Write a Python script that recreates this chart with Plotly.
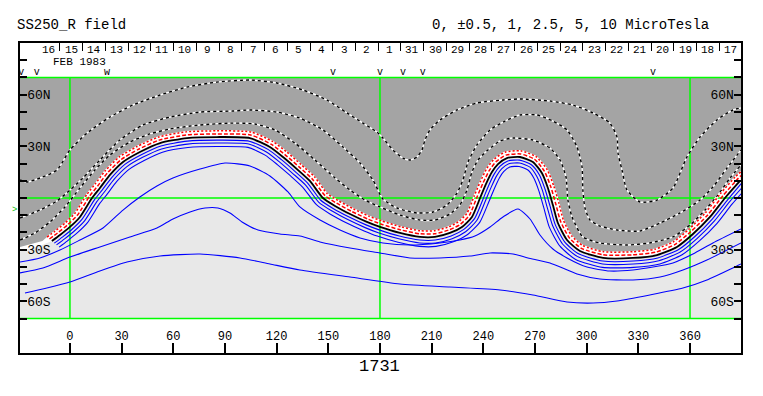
import plotly.graph_objects as go

# ---------------- data (Carrington longitude, latitude) ----------------
LON_MIN, LON_MAX = -29.0, 389.6
LAT_TOP, LAT_BOT = 70.0, -70.0

NEUTRAL = [(-10.5, -25.0), (-5.8, -21.5), (0.0, -16.8), (5.8, -11.0), (12.8, 0.0), (17.4, 5.8), (23.2, 13.4),
           (30.8, 20.9), (40.6, 26.7), (52.3, 31.9), (67.9, 34.8), (85.3, 35.4), (104.5, 34.8), (116.1, 29.6),
           (123.7, 23.8), (131.8, 16.8), (139.3, 9.9), (146.9, 0.0), (153.9, -4.6), (162.6, -9.3), (172.4, -13.9),
           (180.0, -16.8), (191.6, -20.3), (203.2, -22.6), (211.9, -22.6), (220.6, -20.3), (227.6, -16.8),
           (233.4, -11.0), (238.1, 0.0), (241.5, 8.1), (245.0, 15.1), (248.5, 19.7), (253.7, 23.2), (261.3, 23.8),
           (268.8, 20.9), (274.0, 14.5), (277.5, 5.8), (280.4, -4.1), (283.3, -14.5), (288.6, -24.4), (296.1, -30.8),
           (309.5, -34.8), (326.9, -34.8), (340.8, -33.1), (352.4, -28.4), (361.7, -20.9), (371.6, -11.0),
           (380.3, 0.0), (389.0, 9.9)]

RED_OUTER = [(-13.3, -22.7), (-8.6, -19.2), (-2.8, -14.5), (2.9, -8.8), (9.9, 2.2), (14.7, 8.2), (20.6, 15.9),
             (28.6, 23.8), (39.0, 29.9), (51.4, 35.4), (67.5, 38.4), (85.3, 39.0), (105.2, 38.3), (117.9, 32.7),
             (125.9, 26.7), (134.2, 19.4), (142.0, 12.3), (149.4, 2.5), (155.7, -1.5), (164.2, -6.1), (173.5, -10.5),
             (181.0, -13.3), (192.3, -16.8), (203.4, -19.0), (211.5, -19.0), (219.3, -17.0), (225.4, -13.9),
             (230.4, -9.0), (234.8, 1.4), (238.3, 9.6), (242.1, 17.3), (246.3, 22.6), (252.6, 26.6), (261.7, 27.4),
             (270.6, 24.0), (277.1, 16.4), (280.9, 7.0), (283.9, -3.1), (286.5, -12.9), (291.3, -22.0),
             (297.7, -27.6), (309.7, -31.2), (326.7, -31.2), (339.7, -29.7), (350.4, -25.4), (359.2, -18.3),
             (368.9, -8.6), (377.6, 2.4), (386.3, 12.3), (389.6, 15.3)]

RED_INNER = [(-11.9, -23.8), (-7.2, -20.3), (-1.4, -15.6), (4.4, -9.9), (11.4, 1.1), (16.1, 7.0), (21.9, 14.7),
             (29.7, 22.3), (39.8, 28.3), (51.8, 33.6), (67.7, 36.6), (85.3, 37.2), (104.9, 36.6), (117.0, 31.1),
             (124.8, 25.2), (133.0, 18.1), (140.6, 11.1), (148.2, 1.3), (154.8, -3.0), (163.4, -7.7), (172.9, -12.2),
             (180.5, -15.1), (192.0, -18.5), (203.3, -20.8), (211.7, -20.8), (219.9, -18.6), (226.5, -15.4),
             (231.9, -10.0), (236.4, 0.7), (239.9, 8.9), (243.6, 16.2), (247.4, 21.1), (253.2, 24.9), (261.5, 25.6),
             (269.7, 22.5), (275.5, 15.5), (279.2, 6.4), (282.1, -3.6), (284.9, -13.7), (290.0, -23.2),
             (296.9, -29.2), (309.6, -33.0), (326.8, -33.0), (340.3, -31.4), (351.4, -26.9), (360.4, -19.6),
             (370.3, -9.8), (379.0, 1.2), (387.7, 11.1), (389.6, 13.0)]

NEG_1 = [(-9.1, -26.2), (-4.4, -22.7), (1.4, -18.0), (7.2, -12.1), (14.2, -1.1), (18.7, 4.6), (24.5, 12.1),
         (31.9, 19.5), (41.4, 25.1), (52.8, 30.2), (68.1, 33.0), (85.3, 33.6), (104.1, 33.0), (115.2, 28.1),
         (122.6, 22.4), (130.6, 15.5), (138.0, 8.7), (145.6, -1.3), (153.0, -6.2), (161.8, -10.9), (171.9, -15.6),
         (179.5, -18.5), (191.2, -22.1), (203.1, -24.4), (212.1, -24.4), (221.3, -22.0), (228.7, -18.2),
         (234.9, -12.0), (239.8, -0.7), (243.1, 7.3), (246.4, 14.0), (249.6, 18.3), (254.2, 21.5), (261.1, 22.0),
         (267.9, 19.3), (272.5, 13.5), (275.8, 5.2), (278.7, -4.6), (281.7, -15.3), (287.3, -25.6), (295.3, -32.4),
         (309.4, -36.6), (327.0, -36.6), (341.3, -34.8), (353.4, -29.9), (363.0, -22.2), (372.9, -12.2),
         (381.7, -1.2), (390.0, 8.7)]

NEG_2 = [(-7.8, -27.2), (-3.1, -23.7), (2.7, -19.0), (8.6, -13.1), (15.6, -2.1), (20.0, 3.5), (25.7, 11.0),
         (32.9, 18.1), (42.2, 23.6), (53.2, 28.5), (68.3, 31.3), (85.3, 31.9), (103.8, 31.4), (114.3, 26.6),
         (121.6, 21.0), (129.4, 14.2), (136.7, 7.6), (144.5, -2.5), (152.2, -7.6), (161.0, -12.4), (171.4, -17.2),
         (179.0, -20.2), (190.9, -23.7), (203.0, -26.1), (212.3, -26.1), (221.9, -23.6), (229.7, -19.6),
         (236.3, -12.9), (241.3, -1.4), (244.7, 6.6), (247.8, 13.0), (250.6, 16.9), (254.8, 19.9), (261.0, 20.3),
         (267.1, 17.9), (271.0, 12.6), (274.2, 4.7), (277.0, -5.1), (280.2, -16.0), (286.0, -26.7), (294.5, -33.9),
         (309.3, -38.3), (327.1, -38.3), (341.9, -36.4), (354.3, -31.3), (364.2, -23.4), (374.2, -13.3),
         (382.9, -2.3), (391.6, 7.6)]

NEG_3 = [(-6.3, -28.5), (-1.6, -25.0), (4.2, -20.3), (10.2, -14.3), (17.2, -3.3), (21.5, 2.1), (27.2, 9.6),
         (34.1, 16.5), (43.1, 21.8), (53.7, 26.6), (68.5, 29.3), (85.3, 29.9), (103.4, 29.4), (113.3, 24.9),
         (120.4, 19.4), (128.1, 12.8), (135.2, 6.2), (143.1, -3.9), (151.2, -9.4), (160.1, -14.2), (170.8, -19.1),
         (178.4, -22.1), (190.5, -25.7), (202.9, -28.1), (212.5, -28.1), (222.6, -25.4), (230.9, -21.2),
         (238.0, -14.0), (243.2, -2.2), (246.5, 5.7), (249.4, 11.8), (251.8, 15.3), (255.4, 18.0), (260.8, 18.3),
         (266.1, 16.1), (269.3, 11.6), (272.3, 4.0), (275.1, -5.6), (278.3, -16.9), (284.5, -28.0), (293.6, -35.7),
         (309.2, -40.3), (327.2, -40.3), (342.5, -38.3), (355.4, -33.0), (365.6, -24.8), (375.7, -14.7),
         (384.4, -3.6), (393.1, 6.2)]

NEG_4 = [(-29.0, -37.2), (-17.4, -34.8), (-5.8, -30.2), (5.8, -24.4), (19.2, -17.4), (30.8, -7.0), (40.6, 0.6),
         (50.5, 7.0), (59.8, 11.6), (75.5, 16.8), (90.0, 20.3), (104.5, 18.6), (116.1, 12.8), (126.6, 3.5),
         (133.5, -5.2), (145.2, -12.8), (156.8, -18.6), (168.4, -23.2), (181.7, -26.1), (197.4, -27.3),
         (214.8, -26.1), (226.4, -24.4), (235.1, -22.1), (243.9, -16.8), (251.4, -11.0), (260.1, -6.4),
         (267.1, -12.2), (272.9, -21.5), (280.4, -29.6), (288.6, -34.8), (300.2, -40.1), (313.5, -42.4),
         (326.9, -41.8), (338.5, -40.1), (350.1, -37.7), (361.7, -32.5), (373.3, -26.1), (389.6, -18.0)]

NEG_5 = [(-29.0, -43.5), (-15.7, -40.6), (0.0, -34.3), (17.4, -28.4), (34.8, -22.6), (50.5, -17.4), (59.8, -12.2),
         (69.7, -8.1), (78.4, -5.8), (85.9, -5.8), (92.9, -8.7), (99.9, -13.9), (109.2, -18.6), (121.9, -20.9),
         (133.5, -22.1), (145.2, -25.5), (162.6, -29.0), (180.0, -31.9), (197.4, -34.8), (214.8, -34.8),
         (232.2, -33.7), (243.9, -31.9), (257.2, -32.5), (265.9, -34.8), (278.7, -37.7), (294.4, -44.1),
         (307.7, -47.0), (326.9, -47.6), (342.6, -45.9), (355.9, -41.8), (369.8, -36.0), (389.6, -26.1)]

NEG_6 = [(-26.1, -55.2), (-13.4, -52.3), (0.0, -48.8), (17.4, -42.4), (33.1, -37.2), (52.3, -33.7), (75.5, -32.5),
         (98.7, -34.8), (116.1, -38.3), (133.5, -41.8), (162.6, -45.9), (191.6, -49.9), (220.6, -51.7),
         (249.7, -53.4), (268.8, -56.3), (288.6, -60.4), (303.7, -61.0), (317.6, -59.8), (336.7, -56.3),
         (355.9, -52.3), (369.8, -47.6), (384.9, -40.6), (389.6, -38.3)]

POS_1 = [(-29.0, 10.5), (-25.0, 9.3), (-17.4, 11.6), (-7.5, 16.3), (0.0, 27.9), (9.9, 37.7), (23.2, 47.0),
         (36.6, 54.0), (52.3, 59.8), (67.9, 64.4), (85.3, 67.3), (104.5, 68.5), (120.2, 66.8), (135.3, 62.7),
         (149.2, 56.9), (160.8, 49.4), (170.1, 43.5), (178.2, 38.3), (181.7, 34.8), (187.5, 27.9), (193.3, 23.2),
         (197.4, 22.1), (201.5, 23.8), (204.4, 27.9), (206.1, 33.7), (209.0, 39.5), (214.8, 45.3), (224.7, 51.1),
         (236.3, 55.2), (251.4, 56.9), (261.3, 57.5), (278.7, 56.3), (292.0, 54.0), (303.7, 49.4), (313.5, 43.5),
         (317.6, 35.4), (318.2, 26.1), (320.5, 16.3), (323.4, 4.6), (330.9, -2.3), (340.8, -1.2), (350.1, 5.8),
         (358.2, 23.8), (365.8, 35.4), (375.6, 45.3), (384.9, 51.1), (389.6, 52.3)]

POS_2 = [(-29.0, -11.6), (-17.4, -7.0), (-7.5, -1.7), (0.0, 4.6), (7.5, 11.6), (17.4, 22.1), (29.0, 33.7),
         (42.4, 42.4), (58.1, 47.0), (75.5, 49.9), (94.6, 50.5), (104.5, 51.1), (120.2, 49.9), (133.5, 46.4),
         (146.9, 39.5), (158.5, 29.6), (168.4, 20.3), (175.9, 10.5), (181.7, -0.6), (189.9, -5.8), (201.5, -8.7),
         (210.8, -8.1), (218.9, -4.1), (224.7, 2.9), (228.2, 10.5), (231.1, 20.9), (236.3, 30.8), (243.9, 39.5),
         (252.6, 44.7), (261.3, 48.2), (271.1, 48.2), (280.4, 44.7), (288.6, 39.5), (294.4, 29.6), (297.3, 18.0),
         (297.8, 4.6), (299.0, -5.8), (301.9, -12.8), (307.7, -16.3), (317.6, -18.6), (330.9, -19.2),
         (342.6, -14.5), (354.2, -8.7), (365.8, -1.2), (373.3, 6.4), (381.5, 17.4), (389.6, 27.9)]

POS_3 = [(-29.0, -24.4), (-20.3, -20.3), (-11.6, -13.9), (-2.9, -5.2), (5.8, 5.8), (14.5, 16.3), (23.2, 25.0),
         (34.8, 32.5), (46.4, 37.2), (58.1, 40.1), (75.5, 42.4), (94.6, 43.5), (107.4, 43.0), (119.0, 39.5),
         (130.6, 31.9), (142.2, 22.1), (153.9, 11.6), (162.6, 4.6), (171.3, -1.2), (180.0, -5.2), (191.6, -9.9),
         (203.2, -12.8), (211.9, -12.8), (220.6, -9.3), (226.4, -4.1), (230.5, 4.6), (233.4, 15.1), (236.9, 22.1),
         (242.7, 27.9), (249.7, 33.1), (257.2, 34.8), (268.8, 33.7), (278.7, 29.0), (284.5, 22.1), (288.0, 12.2),
         (289.1, -1.2), (291.5, -11.0), (297.8, -22.6), (307.7, -26.1), (323.4, -27.3), (336.7, -26.1),
         (350.1, -22.6), (360.0, -15.7), (368.7, -7.0), (376.2, 1.7), (383.2, 11.6), (389.6, 19.2)]

# where the positive (grey) / white areas meet the left map edge
WHITE_EDGE = [(-29.0, -31.0), (-18.0, -28.0)]
GREY_EDGE = [(-29.0, -28.4), (-16.0, -25.0)]

LON_TICKS = [0, 30, 60, 90, 120, 150, 180, 210, 240, 270, 300, 330, 360]
LAT_TICKS = [-80, -70, -60, -50, -40, -30, -20, -10, 0, 10, 20, 30, 40, 50, 60, 70, 80]
LAT_LABELS = {-60: "60S", -30: "30S", 30: "30N", 60: "60N"}
DAY_LABELS = ["16", "15", "14", "13", "12", "11", "10", "9", "8", "7", "6", "5", "4", "3", "2", "1",
              "31", "30", "29", "28", "27", "26", "25", "24", "23", "22", "21", "20", "19", "18", "17"]
FIRST_DAY_LON = -19.0            # longitude of the first day boundary (start of Feb 16)
DEG_PER_DAY = 360.0 / 27.2753    # Carrington synodic rotation
V_MARK_LON = [-28.3, -19.2, 21.5, 152.7, 180.0, 193.3, 204.9, 338.5]
V_MARK_GLYPH = ["v", "v", "w", "v", "v", "v", "v", "v"]
EARTH_LAT = -7.0
ROTATION = "1731"
TITLE_LEFT = "SS250_R field"
TITLE_RIGHT = "0, ±0.5, 1, 2.5, 5, 10 MicroTesla"
MONTH_LABEL = "FEB 1983"

# ---------------- figure ----------------
MONO = "Liberation Mono, DejaVu Sans Mono, monospace"
GREEN = "#00FF00"


def xs(pts):
    return [p[0] for p in pts]


def ys(pts):
    return [p[1] for p in pts]


fig = go.Figure()

# white band (field > 0 side of the neutral line)
wpts = WHITE_EDGE + NEUTRAL
fig.add_trace(go.Scatter(x=xs(wpts) + [LON_MAX, LON_MIN], y=ys(wpts) + [LAT_TOP, LAT_TOP],
                         fill="toself", fillcolor="white", mode="lines", line=dict(width=0),
                         hoverinfo="skip"))
# grey positive-polarity area
gpts = GREY_EDGE + RED_OUTER
fig.add_trace(go.Scatter(x=xs(gpts) + [LON_MAX, LON_MIN], y=ys(gpts) + [LAT_TOP, LAT_TOP],
                         fill="toself", fillcolor="#A4A4A4", mode="lines", line=dict(width=0),
                         hoverinfo="skip"))

# green reference lines
gx, gy = [], []
for la in (LAT_TOP, 0.0, LAT_BOT):
    gx += [LON_MIN, LON_MAX, None]
    gy += [la, la, None]
for lo in (0, 180, 360):
    gx += [lo, lo, None]
    gy += [LAT_BOT, LAT_TOP, None]
fig.add_trace(go.Scatter(x=gx, y=gy, mode="lines", line=dict(color=GREEN, width=1.5), hoverinfo="skip"))


def add_line(pts, color, width, dash="solid", base=None):
    if base:
        fig.add_trace(go.Scatter(x=xs(pts), y=ys(pts), mode="lines",
                                 line=dict(color=base, width=width, shape="spline", smoothing=0.6),
                                 hoverinfo="skip"))
    fig.add_trace(go.Scatter(x=xs(pts), y=ys(pts), mode="lines",
                             line=dict(color=color, width=width, dash=dash, shape="spline", smoothing=0.6),
                             hoverinfo="skip"))


# negative (blue) contours
for line in (NEG_1, NEG_2, NEG_3, NEG_4, NEG_5, NEG_6):
    add_line(line, "#0000FF", 1.1)
# positive (black/white dashed) contours
for line in (POS_1, POS_2, POS_3):
    add_line(line, "black", 1.4, dash="3px,3px", base="white")
# red lines beside the neutral line
add_line(RED_OUTER, "red", 1.5, dash="2px,2px", base="white")
add_line(RED_INNER, "red", 1.5, dash="4px,2px")
# neutral line
add_line(NEUTRAL, "black", 1.8)

# observation marks above the map
fig.add_trace(go.Scatter(x=V_MARK_LON, y=[72.6] * len(V_MARK_LON), mode="text",
                         text=V_MARK_GLYPH, textposition="middle center",
                         textfont=dict(family=MONO, size=10, color="black"),
                         hoverinfo="skip", cliponaxis=False))

# helper traces so the extra axes render
fig.add_trace(go.Scatter(x=[LON_MIN], y=[0], xaxis="x2", yaxis="y", mode="markers",
                         marker=dict(opacity=0), hoverinfo="skip"))
fig.add_trace(go.Scatter(x=[LON_MIN], y=[0], xaxis="x", yaxis="y2", mode="markers",
                         marker=dict(opacity=0), hoverinfo="skip"))

day_bounds = [FIRST_DAY_LON + k * DEG_PER_DAY for k in range(len(DAY_LABELS) + 1)]
day_mids = [FIRST_DAY_LON + (k + 0.5) * DEG_PER_DAY for k in range(len(DAY_LABELS))]
lat_text = [LAT_LABELS.get(v, "") for v in LAT_TICKS]

axis_common = dict(showgrid=False, zeroline=False, fixedrange=True, type="linear")
tickfont = dict(family=MONO, size=13, color="black")

annotations = [
    dict(text=TITLE_LEFT, xref="paper", yref="paper", x=-0.007, y=1.058, xanchor="left",
         yanchor="middle", showarrow=False, font=dict(family=MONO, size=14, color="black")),
    dict(text=TITLE_RIGHT, xref="paper", yref="paper", x=0.958, y=1.058, xanchor="right",
         yanchor="middle", showarrow=False, font=dict(family=MONO, size=14, color="black")),
    dict(text=MONTH_LABEL, xref="x", yref="y", x=5.8, y=78.8, xanchor="center",
         yanchor="middle", showarrow=False, font=dict(family=MONO, size=11, color="black")),
    dict(text=ROTATION, xref="x", yref="paper", x=180, y=-0.045, xanchor="center",
         yanchor="middle", showarrow=False, font=dict(family=MONO, size=17, color="black")),
    dict(text=">", xref="paper", yref="y", x=-0.007, y=EARTH_LAT, xanchor="center",
         yanchor="middle", showarrow=False, font=dict(family=MONO, size=9, color="#00C000")),
]
for lab, xm in zip(DAY_LABELS, day_mids):
    annotations.append(dict(text=lab, xref="x", yref="paper", x=xm, y=0.979, xanchor="center",
                            yanchor="middle", showarrow=False,
                            font=dict(family=MONO, size=11, color="black")))

# page body has an 8 px margin: figure is sized/margined so the plot frame sits at x 20..741, y 43..353
fig.update_layout(
    width=755, height=388,
    margin=dict(l=12, r=22, t=35, b=43),
    paper_bgcolor="white", plot_bgcolor="white",
    showlegend=False,
    xaxis=dict(range=[LON_MIN, LON_MAX], showline=True, linecolor="black", linewidth=1.5,
               ticks="inside", ticklen=10, tickwidth=1.5, tickcolor="black",
               tickvals=LON_TICKS, ticktext=[str(v) for v in LON_TICKS],
               ticklabelposition="inside", tickfont=dict(family=MONO, size=12, color="black"),
               **axis_common),
    xaxis2=dict(range=[LON_MIN, LON_MAX], overlaying="x", side="top", anchor="y",
                showline=True, linecolor="black", linewidth=1.5,
                ticks="inside", ticklen=8, tickwidth=1, tickcolor="black",
                tickvals=day_bounds, showticklabels=False, **axis_common),
    yaxis=dict(range=[-90, 90], showline=True, linecolor="black", linewidth=1.5,
               ticks="inside", ticklen=7, tickwidth=1.5, tickcolor="black",
               tickvals=LAT_TICKS, ticktext=lat_text, ticklabelposition="inside",
               tickfont=tickfont, **axis_common),
    yaxis2=dict(range=[-90, 90], overlaying="y", side="right", anchor="x",
                showline=True, linecolor="black", linewidth=1.5,
                ticks="inside", ticklen=7, tickwidth=1.5, tickcolor="black",
                tickvals=LAT_TICKS, ticktext=lat_text, ticklabelposition="inside",
                tickfont=tickfont, **axis_common),
    shapes=[dict(type="rect", xref="x", yref="y", x0=LON_MIN, x1=LON_MAX, y0=LAT_BOT, y1=LAT_TOP,
                 fillcolor="#E8E8E8", line=dict(width=0), layer="below")],
    annotations=annotations,
)

fig.write_html("out.html")
